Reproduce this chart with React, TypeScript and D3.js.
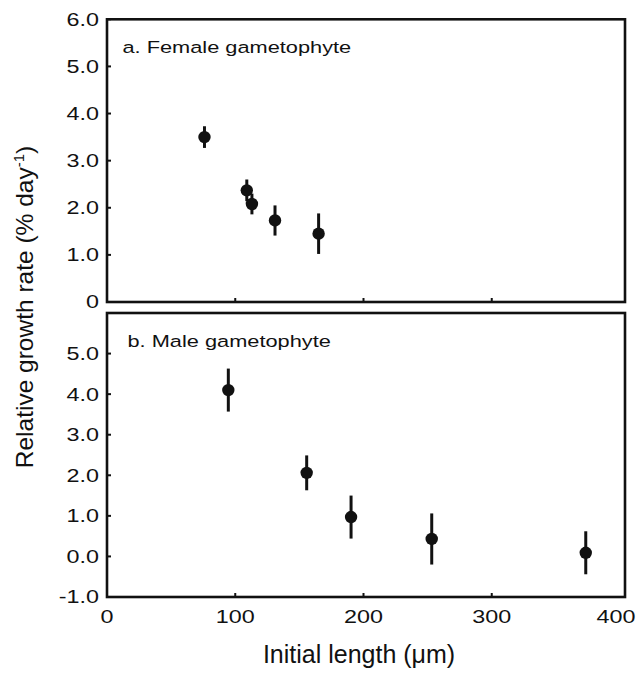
import React from "react";
import * as d3 from "d3";

// Female gametophytes: initial length (µm), relative growth rate (% day-1), SE
const femaleLength = [76, 109, 113, 131, 165];
const femaleRate = [3.5, 2.37, 2.08, 1.73, 1.45];
const femaleErr = [0.23, 0.23, 0.22, 0.32, 0.43];

// Male gametophytes
const maleLength = [94.6, 155.7, 190.3, 253.2, 373.3];
const maleRate = [4.1, 2.06, 0.97, 0.43, 0.09];
const maleErr = [0.53, 0.43, 0.53, 0.63, 0.53];

const xTicks = [0, 100, 200, 300, 400];
const topYTicks = [0, 1, 2, 3, 4, 5, 6];
const bottomYTicks = [-1, 0, 1, 2, 3, 4, 5];

const W = 636;
const H = 673;
const FONT = "'Liberation Sans', Arial, Helvetica, sans-serif";
const INK = "#111";
const TEXT_SX = 1.32; // wide lettering used for tick labels and panel titles

const left = 107;
const right = 625;

const x = d3.scaleLinear().domain([0, 400]).range([left, 620]);

type PanelProps = {
  top: number;
  bottom: number;
  domain: [number, number];
  yTicks: number[];
  lengths: number[];
  rates: number[];
  errs: number[];
  title: string;
  titleX: number;
  titleY: number;
  showXLabels: boolean;
};

function fmtY(v: number, topPanel: boolean) {
  if (topPanel && v === 0) return "0";
  // plain hyphen for negatives
  return v.toFixed(1);
}

function Panel(p: PanelProps) {
  const y = d3.scaleLinear().domain(p.domain).range([p.bottom, p.top]);
  const topPanel = p.domain[0] === 0;
  const pts = d3.range(p.lengths.length).map((i) => ({
    x: p.lengths[i],
    y: p.rates[i],
    e: p.errs[i],
  }));
  return (
    <g>
      {/* y tick labels */}
      {p.yTicks.map((t) => (
        <g key={"yl" + t} transform={`translate(99,${y(t)}) scale(${TEXT_SX},1)`}>
          <text
            textAnchor="end"
            dy="0.36em"
            fontSize={17.7}
            fontFamily={FONT}
            fill={INK}
          >
            {fmtY(t, topPanel)}
          </text>
        </g>
      ))}
      {/* inward y ticks */}
      {p.yTicks.map((t) => (
        <line
          key={"yt" + t}
          x1={left}
          x2={left + 4}
          y1={y(t)}
          y2={y(t)}
          stroke={INK}
          strokeWidth={2}
        />
      ))}
      {/* inward x ticks */}
      {xTicks.slice(1, 4).map((t) => (
        <line
          key={"xt" + t}
          x1={x(t)}
          x2={x(t)}
          y1={p.bottom}
          y2={p.bottom - 4}
          stroke={INK}
          strokeWidth={2}
        />
      ))}
      {/* frame */}
      <rect
        x={left}
        y={p.top}
        width={right - left}
        height={p.bottom - p.top}
        fill="none"
        stroke={INK}
        strokeWidth={2.6}
      />
      {/* panel title */}
      <g transform={`translate(${p.titleX},${p.titleY}) scale(${TEXT_SX},1)`}>
        <text fontSize={16.5} fontFamily={FONT} fill={INK}>
          {p.title}
        </text>
      </g>
      {/* error bars and means */}
      {pts.map((d, i) => (
        <g key={"pt" + i}>
          <line
            x1={x(d.x)}
            x2={x(d.x)}
            y1={y(d.y - d.e)}
            y2={y(d.y + d.e)}
            stroke={INK}
            strokeWidth={3}
          />
          <circle cx={x(d.x)} cy={y(d.y)} r={6.2} fill={INK} />
        </g>
      ))}
      {/* x tick labels */}
      {p.showXLabels &&
        xTicks.map((t) => {
          const cx = t === 400 ? x(t) - 4 : x(t);
          return (
            <g key={"xl" + t} transform={`translate(${cx},623) scale(${TEXT_SX},1)`}>
              <text textAnchor="middle" fontSize={17.7} fontFamily={FONT} fill={INK}>
                {t}
              </text>
            </g>
          );
        })}
    </g>
  );
}

export default function App() {
  return (
    <div style={{ position: "absolute", left: 0, top: 0 }}>
      <svg width={W} height={H} style={{ display: "block", background: "#fff" }}>
        <Panel
          top={19.3}
          bottom={302}
          domain={[0, 6]}
          yTicks={topYTicks}
          lengths={femaleLength}
          rates={femaleRate}
          errs={femaleErr}
          title="a. Female gametophyte"
          titleX={122.5}
          titleY={53.3}
          showXLabels={false}
        />
        <Panel
          top={313}
          bottom={597}
          domain={[-1, 6]}
          yTicks={bottomYTicks}
          lengths={maleLength}
          rates={maleRate}
          errs={maleErr}
          title="b. Male gametophyte"
          titleX={127.5}
          titleY={347.3}
          showXLabels={true}
        />
        {/* y axis title */}
        <text
          transform="translate(33,307) rotate(-90)"
          textAnchor="middle"
          fontSize={24.5}
          fontFamily={FONT}
          fill={INK}
        >
          Relative growth rate (% day
          <tspan fontSize={15} dy={-9}>
            -1
          </tspan>
          <tspan dy={9}>)</tspan>
        </text>
        {/* x axis title */}
        <text
          x={359}
          y={663}
          textAnchor="middle"
          fontSize={25}
          fontFamily={FONT}
          fill={INK}
        >
          Initial length (μm)
        </text>
      </svg>
    </div>
  );
}
